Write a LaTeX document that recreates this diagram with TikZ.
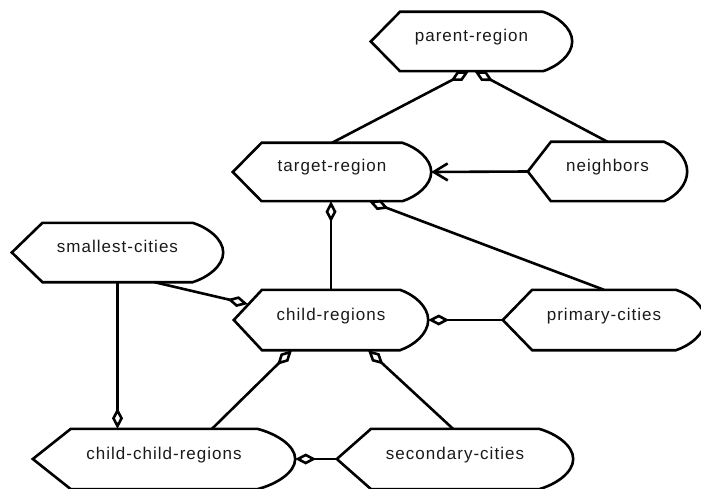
\documentclass[tikz,border=0pt]{standalone}
\usepackage{fontspec}
\setmainfont[LetterSpace=6]{Liberation Sans}
\usetikzlibrary{arrows.meta,calc}

% Outline of a "display" box: pointed on the left, rounded on the right.
\newcommand\dispframe[1]{%
  \draw[frame] let \p1=(#1.north west), \p2=(#1.south east), \p3=(#1.west),
      \n1={0.145*(\x2-\x1)} in
    (\x1,\y3) -- ({\x1+\n1},\y1) -- ({\x2-\n1},\y1)
    .. controls ({\x2-0.5*\n1},{\y1-0.16*(\y1-\y3)}) and (\x2,{\y3+0.45*(\y1-\y3)}) .. (\x2,\y3)
    .. controls (\x2,{\y3-0.45*(\y1-\y3)}) and ({\x2-0.5*\n1},{\y2+0.16*(\y1-\y3)}) .. ({\x2-\n1},\y2)
    -- ({\x1+\n1},\y2) -- cycle;}

\begin{document}
\begin{tikzpicture}[x=1pt,y=-1pt,
  box/.style={inner sep=0pt, text height=0pt, text depth=0pt,
    font=\fontsize{17pt}{19pt}\selectfont, text=black!90},
  frame/.style={line width=2.6pt, line join=miter},
  conn/.style={line width=2.6pt},
  agg/.style={conn, -{Diamond[open,length=21pt,width=11pt]}},
  nav/.style={conn, -{Straight Barb[length=14pt,width=17pt]}}]

\useasboundingbox (0,0) rectangle (701,489);

% nodes
\node[box, minimum width=201pt, minimum height=59pt] (parent)     at (471.5,41.5) {parent-region};
\node[box, minimum width=198pt, minimum height=58pt] (target)     at (332,172)    {target-region};
\node[box, minimum width=159pt, minimum height=59pt] (neighbors)  at (607.5,171.5){neighbors};
\node[box, minimum width=211pt, minimum height=59pt] (smallest)   at (117.5,252.5){smallest-cities};
\node[box, minimum width=194pt, minimum height=60pt] (child)      at (331,320)    {child-regions};
\node[box, minimum width=202pt, minimum height=60pt] (primary)    at (604,320)    {primary-cities};
\node[box, minimum width=262pt, minimum height=60pt] (childchild) at (164,459)    {child-child-regions};
\node[box, minimum width=236pt, minimum height=60pt] (secondary)  at (455,459)    {secondary-cities};

\foreach \nm in {parent,target,neighbors,smallest,child,primary,childchild,secondary}
  {\dispframe{\nm}}

% connectors
\draw[agg] (target.north) -- ([xshift=-2.5pt]parent.south);
\draw[agg] (neighbors.north) -- ([xshift=3pt]parent.south);
\draw[nav] (neighbors.west) -- (target.east);
\draw[agg] (child.north) -- (child.north |- target.south);
\draw[agg] (primary.north) -- ([xshift=37pt]target.south);
\draw[agg] ([xshift=37pt]smallest.south) -- ([xshift=14pt,yshift=16pt]child.west);
\draw[agg] (smallest.south) -- (smallest.south |- childchild.north);
\draw[agg] (primary.west) -- (child.east);
\draw[agg] ([xshift=48pt]childchild.north) -- ([xshift=-39pt]child.south);
\draw[agg] ([xshift=-2pt]secondary.north) -- ([xshift=37pt]child.south);
\draw[agg] (secondary.west) -- (childchild.east);
\end{tikzpicture}
\end{document}
